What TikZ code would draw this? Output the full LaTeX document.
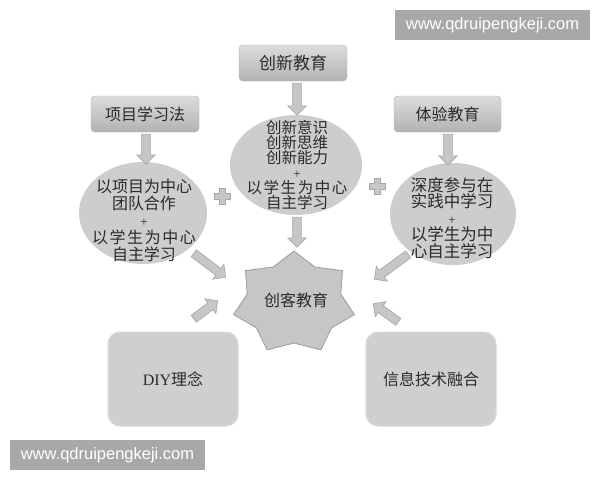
\documentclass[tikz,border=0pt]{standalone}
\usepackage{fontspec}
\setmainfont{Liberation Serif}
\newfontfamily\cjk{Noto Sans CJK SC}
\newfontfamily\cjkwide[LetterSpace=10]{Noto Sans CJK SC}
\newfontfamily\wmfont{Liberation Sans}
\usetikzlibrary{shapes.arrows,shapes.geometric}
\definecolor{wmgray}{HTML}{A8A8A8}
\definecolor{boxtop}{HTML}{DCDCDC}
\definecolor{boxbot}{HTML}{B2B2B2}
\definecolor{boxedge}{HTML}{B0B0B0}
\definecolor{ellfill}{HTML}{CDCDCD}
\definecolor{starfill}{HTML}{C6C6C6}
\definecolor{staredge}{HTML}{9C9C9C}
\definecolor{arrowfill}{HTML}{C6C6C6}
\definecolor{arrowedge}{HTML}{A6A6A6}
\definecolor{botfill}{HTML}{CFCFCF}
\definecolor{botedge}{HTML}{DADADA}
\definecolor{inktext}{HTML}{2A2A2A}
\begin{document}
\begin{tikzpicture}[x=1pt,y=-1pt,
  wm/.style={fill=wmgray, text=white, inner sep=0pt, minimum width=195pt, minimum height=30pt, font=\wmfont\fontsize{16.5}{18}\selectfont},
  topbox/.style={rounded corners=4pt, top color=boxtop, bottom color=boxbot, draw=boxedge, inner sep=0pt, minimum width=108pt, minimum height=36pt, text=inktext, font=\cjk\fontsize{16}{18}\selectfont},
  ell/.style={ellipse, fill=ellfill, inner sep=0pt},
  elltext/.style={align=center, text=inktext, inner sep=0pt},
  barrow/.style={single arrow, draw=arrowedge, fill=arrowfill, line width=0.6pt, inner xsep=0pt, inner ysep=4pt, single arrow head extend=5pt, single arrow head indent=0pt},
  botbox/.style={rounded corners=12pt, fill=botfill, draw=botedge, line width=1pt, minimum width=130pt, minimum height=94pt, text=inktext, font=\fontsize{16}{18}\selectfont},
  plusmark/.pic={\filldraw[fill=arrowfill, draw=arrowedge, line width=0.6pt] (-8,-3) -- (-3,-3) -- (-3,-8) -- (3,-8) -- (3,-3) -- (8,-3) -- (8,3) -- (3,3) -- (3,8) -- (-3,8) -- (-3,3) -- (-8,3) -- cycle;}
]
\useasboundingbox[fill=white] (0,0) rectangle (600,480);

% watermarks
\node[wm] (wmtop) at (492.5,25) {www.qdruipengkeji.com};
\node[wm] (wmbot) at (107.5,455) {www.qdruipengkeji.com};

% top boxes
\node[topbox, font=\cjk\fontsize{17}{18}\selectfont] (cxjy) at (293,63) {创新教育};
\node[topbox] (xmxx) at (145,114) {项目学习法};
\node[topbox, minimum width=107pt] (tyjy) at (447.5,114) {体验教育};

% ellipses
\node[ell, minimum width=132pt, minimum height=100pt] (ec) at (296,165) {};
\node[ell, minimum width=128pt, minimum height=102pt] (el) at (143,213) {};
\node[ell, minimum width=126pt, minimum height=102pt] (er) at (453,214) {};

\node[elltext, font=\cjk\fontsize{15.5}{15}\selectfont] (tc) at (297,165) {创新意识\\创新思维\\创新能力\\{\rmfamily\fontsize{13}{15}\selectfont +}\\{\cjkwide 以学生为中心}\\自主学习};
\node[elltext, font=\cjk\fontsize{16}{17}\selectfont] (tl) at (144,220) {以项目为中心\\团队合作\\{\rmfamily\fontsize{13}{17}\selectfont +}\\{\cjkwide 以学生为中心}\\自主学习};
\node[elltext, font=\cjk\fontsize{16.5}{16.5}\selectfont] (tr) at (452,218) {深度参与在\\实践中学习\\{\rmfamily\fontsize{13}{16.5}\selectfont +}\\以学生为中\\心自主学习};

% star
\filldraw[fill=starfill, draw=staredge, line width=0.8pt]
  (294,251) -- (314.8,267.0) -- (342.5,270.6) -- (340.8,294.1) -- (354.4,314.6) -- (331.5,327.9) -- (320.9,349.9) -- (294,343) -- (267.1,349.9) -- (256.5,327.9) -- (233.6,314.6) -- (247.2,294.1) -- (245.5,270.6) -- (273.2,267.0) -- cycle;
\node[text=inktext, font=\cjk\fontsize{16}{18}\selectfont, inner sep=0pt] (ck) at (296,300) {创客教育};

% bottom boxes
\node[botbox] (diy) at (173,379) {DIY{\cjk 理念}};
\node[botbox, font=\cjk\fontsize{16}{18}\selectfont] (xx) at (431,379) {信息技术融合};

% block arrows
\node[barrow, minimum height=32pt, rotate=-90] (a1) at (297,97) {};
\node[barrow, minimum height=30pt, rotate=-90] (a2) at (146,147) {};
\node[barrow, minimum height=31pt, rotate=-90] (a3) at (448,147.5) {};
\node[barrow, minimum height=30pt, rotate=-90] (a4) at (297,230) {};
\node[barrow, minimum height=40pt, rotate=-36.9] (a5) at (208,264) {};
\node[barrow, minimum height=42pt, rotate=-143.7] (a6) at (393,265.5) {};
\node[barrow, minimum height=30pt, rotate=36.9] (a7) at (204,311) {};
\node[barrow, minimum height=31pt, rotate=144.2] (a8) at (387.5,314) {};

% plus signs
\pic at (222,196) {plusmark};
\pic at (377,186) {plusmark};
\end{tikzpicture}
\end{document}
